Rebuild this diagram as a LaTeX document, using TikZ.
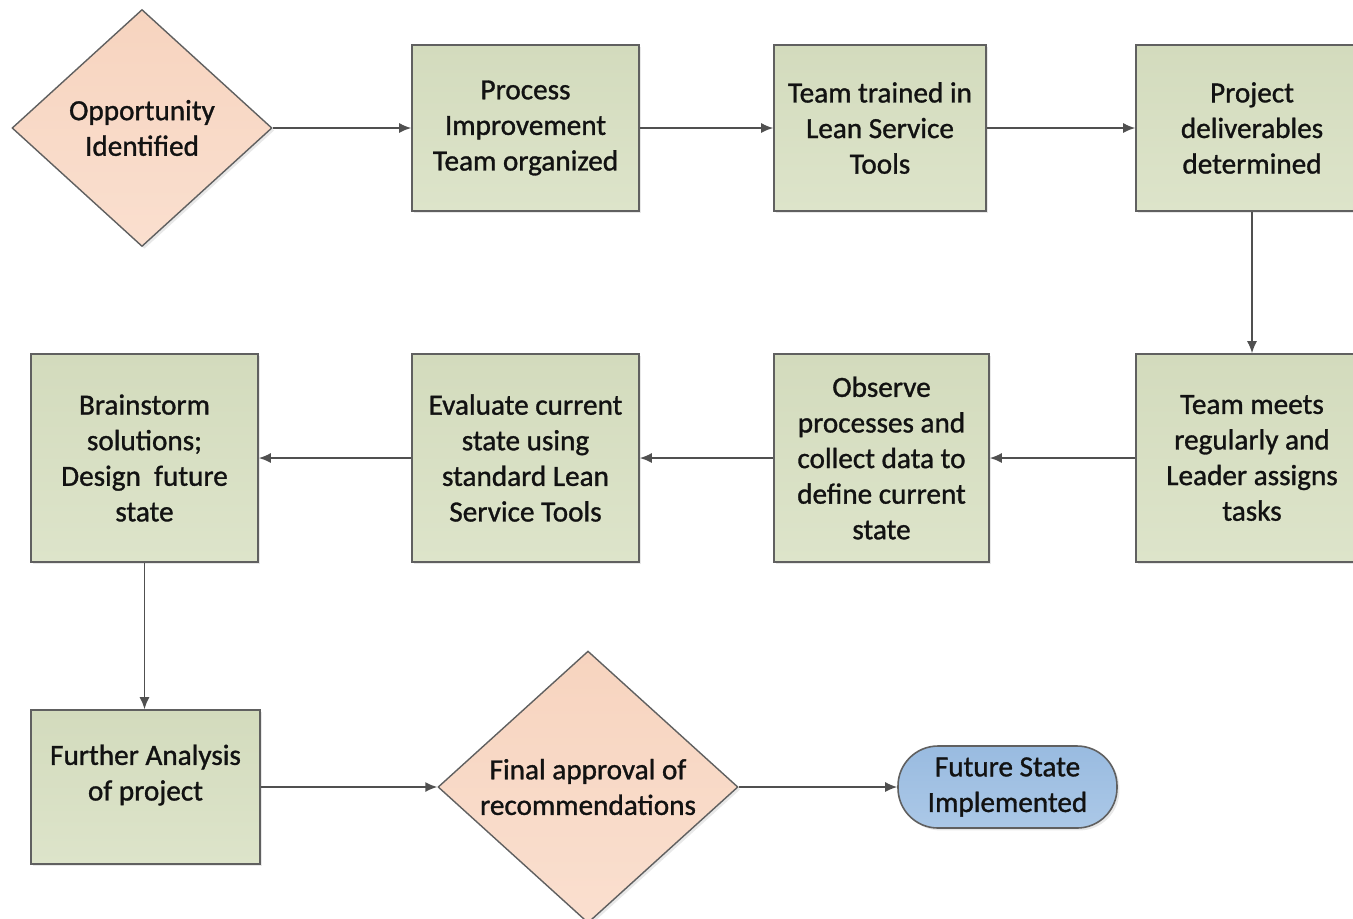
\documentclass[tikz,border=0pt]{standalone}
\usepackage{fontspec}
\setmainfont{Carlito}[FakeBold=1.1]
\usetikzlibrary{shapes.geometric,arrows.meta,shadows}
\definecolor{boxtop}{HTML}{D3DBBD}
\definecolor{boxbot}{HTML}{DDE4CA}
\definecolor{dtop}{HTML}{F7D4BF}
\definecolor{dbot}{HTML}{FADFCF}
\definecolor{otop}{HTML}{99BBE0}
\definecolor{obot}{HTML}{ABC8E7}
\definecolor{edgegray}{HTML}{606060}
\definecolor{arrgray}{HTML}{505050}
\definecolor{txt}{HTML}{121212}
\begin{document}
\begin{tikzpicture}[x=0.5pt,y=-0.5pt,
  every node/.style={font=\fontsize{14.6}{17.8}\selectfont, text=txt, align=center, inner sep=0pt},
  shadowed/.style={drop shadow={shadow xshift=1.2pt, shadow yshift=-1.2pt, opacity=0.18}},
  stepbox/.style={rectangle, draw=edgegray, line width=0.8pt, top color=boxtop, bottom color=boxbot, shadowed},
  decision/.style={diamond, draw=edgegray, line width=0.7pt, top color=dtop, bottom color=dbot, shadowed},
  terminal/.style={rectangle, rounded corners=20pt, draw=edgegray, line width=0.8pt, top color=otop, bottom color=obot, shadowed},
  flow/.style={draw=arrgray, line width=0.75pt, -{Latex[length=6pt,width=5pt]}}]
\clip (0,0) rectangle (1353,918);
\fill[white] (0,0) rectangle (1353,918);

% row 1
\node[decision, minimum width=130pt, minimum height=118.5pt] (opp) at (142,128) {Opportunity\\Identified};
\node[stepbox, minimum width=113.5pt, minimum height=83pt] (proc) at (525.5,128) {Process\\Improvement\\Team organized};
\node[stepbox, minimum width=106pt, minimum height=83pt] (train) at (880,128) {Team trained in\\Lean Service\\Tools};
\node[stepbox, minimum width=116pt, minimum height=83pt] (deliv) at (1252,128) {Project\\deliverables\\determined};

% row 2
\node[stepbox, minimum width=116pt, minimum height=104pt] (meets) at (1252,458) {Team meets\\regularly and\\Leader assigns\\tasks};
\node[stepbox, minimum width=107.5pt, minimum height=104pt] (observe) at (881.5,458) {Observe\\processes and\\collect data to\\define current\\state};
\node[stepbox, minimum width=113.5pt, minimum height=104pt] (evaluate) at (525.5,458) {Evaluate current\\state using\\standard Lean\\Service Tools};
\node[stepbox, minimum width=113.5pt, minimum height=104pt] (brain) at (144.5,458) {Brainstorm\\solutions;\\Design\ \ future\\state};

% row 3
\node[stepbox, minimum width=114.5pt, minimum height=77pt,
  label={[align=center, yshift=6pt, text=txt]center:{Further Analysis\\of project}}] (further) at (145.5,787) {};
\node[decision, minimum width=150pt, minimum height=132pt] (final) at (588,787) {Final approval of\\recommendations};
\node[terminal, minimum width=109.5pt, minimum height=41pt] (future) at (1007.5,787) {Future State\\Implemented};

% connectors
\draw[flow] (opp.east) -- (proc.west);
\draw[flow] (proc.east) -- (train.west);
\draw[flow] (train.east) -- (deliv.west);
\draw[flow] (deliv.south) -- (meets.north);
\draw[flow] (meets.west) -- (observe.east);
\draw[flow] (observe.west) -- (evaluate.east);
\draw[flow] (evaluate.west) -- (brain.east);
\draw[flow] (brain.south) -- (brain.south |- further.north);
\draw[flow] (further.east) -- (final.west);
\draw[flow] (final.east) -- (future.west);
\end{tikzpicture}
\end{document}
